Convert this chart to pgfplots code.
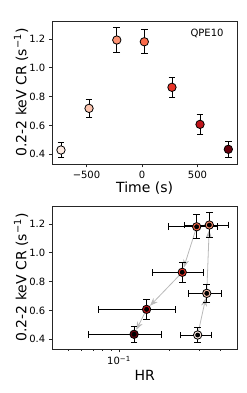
\documentclass[border=0pt]{standalone}
\usepackage{fontspec}
\setmainfont{DejaVu Sans}
\usepackage{pgfplots}
\pgfplotsset{compat=1.18}
\usepackage{pgfplotstable}
\usetikzlibrary{arrows.meta}

\definecolor{arrowgray}{RGB}{185,185,185}

\pgfplotstableread{
t cr err c
-730 0.430 0.050 0
-477 0.719 0.065 1
-227 1.193 0.085 2
21 1.181 0.083 3
270 0.865 0.072 4
523 0.608 0.067 5
778 0.435 0.053 6
}\toptab

\pgfplotstableread{
hr hrerr cr err c
0.294 0.061 0.430 0.050 0
0.333 0.074 0.719 0.065 1
0.345 0.100 1.193 0.085 2
0.290 0.094 1.181 0.083 3
0.238 0.080 0.865 0.072 4
0.146 0.071 0.608 0.067 5
0.123 0.057 0.435 0.053 6
}\bottab

\pgfplotsset{
 common/.style={
  scale only axis, width=184.7pt, height=143pt,
  axis line style={line width=0.8pt, black!85},
  tick align=outside, tick pos=left,
  major tick length=3.5pt, minor tick length=2pt,
  every tick/.style={black!85, line width=0.8pt},
  tick label style={font=\fontsize{10}{12}\selectfont},
  label style={font=\fontsize{14}{16}\selectfont},
  ymin=0.333, ymax=1.325,
  ytick={0.4,0.6,0.8,1.0,1.2}, yticklabels={0.4,0.6,0.8,1.0,1.2},
  colormap={reds}{rgb255=(254,235,226) rgb255=(252,196,174) rgb255=(251,145,114) rgb255=(250,106,74) rgb255=(232,52,40) rgb255=(190,20,26) rgb255=(103,0,13)},
  point meta min=0, point meta max=6,
  ylabel={0.2-2 keV CR (s\textsuperscript{−1})},
  ylabel style={at={(axis description cs:-0.1408,0.5)}, anchor=base, inner sep=0pt},
  xlabel style={anchor=base, inner sep=0pt},
 },
 errs/.style={black, line width=0.8pt, only marks, mark=none,
   error bars/error bar style={draw=black, line width=0.8pt},
   error bars/error mark=-,
   error bars/error mark options={draw=black, line width=0.8pt, mark size=3.3pt, rotate=90}},
 pts/.style={scatter, only marks, mark=*, mark size=4.2pt, scatter src=explicit,
   scatter/use mapped color={draw=black, fill=mapped color},
   mark options={line width=0.8pt}},
 arr/.style={arrowgray, line width=0.8pt, -{Stealth[length=8pt,width=6pt]}, shorten >=5pt},
}

\begin{document}
\begin{tikzpicture}
\useasboundingbox (0,0) rectangle (246pt,393pt);

\begin{axis}[common, at={(52.3pt,229pt)}, anchor=south west,
  xmin=-808, xmax=856, xtick={-500,0,500}, xticklabels={−500,0,500},
  xlabel={Time (s)},
  xlabel style={at={(axis description cs:0.5,-0.2028)}}]
\addplot[errs, error bars/y dir=both, error bars/y explicit] table[x=t, y=cr, y error=err] {\toptab};
\addplot[pts] table[x=t, y=cr, meta=c] {\toptab};
\node[anchor=east, font=\fontsize{10}{12}\selectfont] at (rel axis cs:0.946,0.914) {QPE10};
\end{axis}

\begin{axis}[common, at={(52.3pt,44pt)}, anchor=south west,
  xmode=log, xmin=0.0401, xmax=0.504, xtick={0.1}, xticklabels={10\textsuperscript{−1}},
  minor xtick={0.05,0.06,0.07,0.08,0.09,0.2,0.3,0.4},
  xlabel={HR},
  xlabel style={at={(axis description cs:0.5,-0.218)}}]
\addplot[arr] coordinates {(0.294,0.430) (0.333,0.719)};
\addplot[arr] coordinates {(0.333,0.719) (0.345,1.193)};
\addplot[arr] coordinates {(0.345,1.193) (0.290,1.181)};
\addplot[arr] coordinates {(0.290,1.181) (0.238,0.865)};
\addplot[arr] coordinates {(0.238,0.865) (0.146,0.608)};
\addplot[arr] coordinates {(0.146,0.608) (0.123,0.435)};
\addplot[pts] table[x=hr, y=cr, meta=c] {\bottab};
\addplot[errs, error bars/x dir=both, error bars/x explicit, error bars/y dir=both, error bars/y explicit] table[x=hr, y=cr, x error=hrerr, y error=err] {\bottab};
\end{axis}
\end{tikzpicture}
\end{document}
